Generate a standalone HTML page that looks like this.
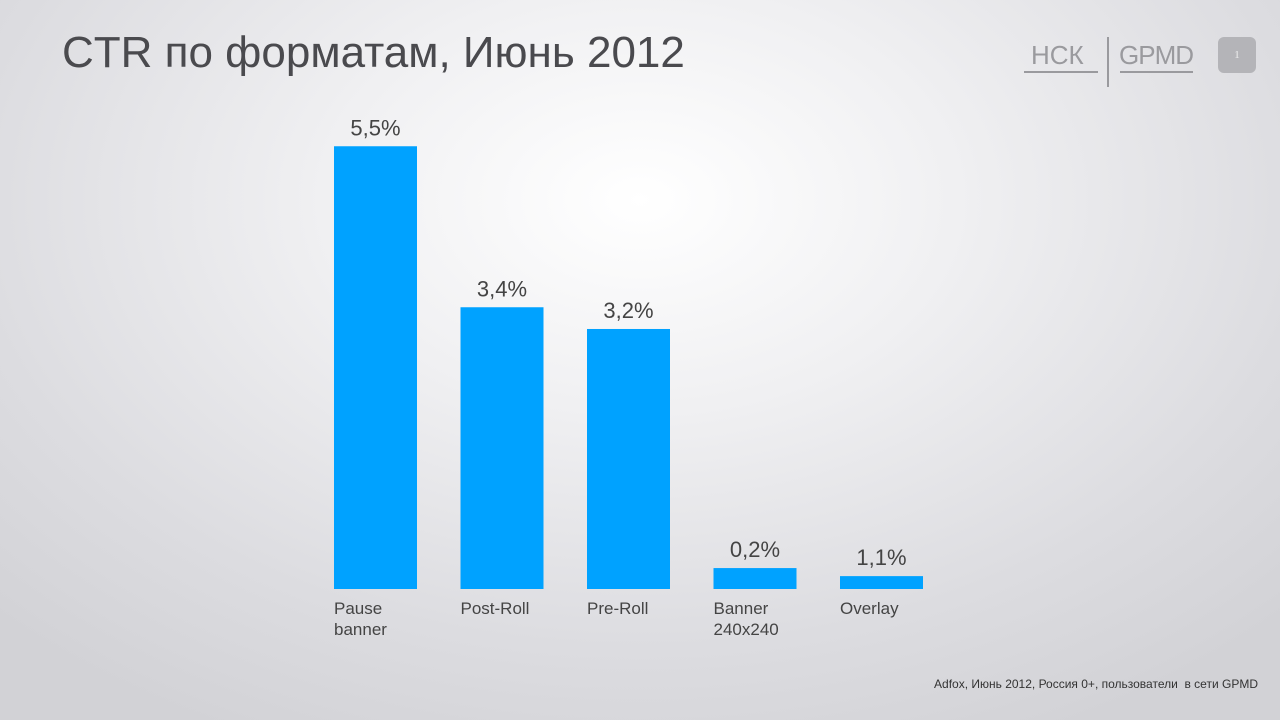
<!DOCTYPE html>
<html><head><meta charset="utf-8"><style>
body{margin:0;width:1280px;height:720px;overflow:hidden;font-family:"Liberation Sans",sans-serif;
background:radial-gradient(ellipse 900px 600px at 640px 200px,#ffffff 0%,#f0f0f2 35%,#dcdce0 75%,#d2d2d6 100%);position:relative}
.abs{position:absolute}
</style></head><body>
<div class="abs" style="left:62px;top:28px;font-size:44px;color:#4a4a4e;letter-spacing:0px">CTR по форматам, Июнь 2012</div>
<div class="abs" style="left:1031px;top:40px;font-size:26px;color:#9a9a9e">НСК</div>
<div class="abs" style="left:1024px;top:71px;width:74px;height:2px;background:#9a9a9e"></div>
<div class="abs" style="left:1107px;top:37px;width:2px;height:50px;background:#9a9a9e"></div>
<div class="abs" style="left:1119px;top:40px;font-size:26px;color:#9a9a9e;letter-spacing:-1px">GPMD</div>
<div class="abs" style="left:1120px;top:71px;width:73px;height:2px;background:#9a9a9e"></div>
<div class="abs" style="left:1218px;top:37px;width:38px;height:36px;border-radius:6px;background:#b4b4b8;color:#eee;font-size:11px;text-align:center;line-height:36px;font-family:'Liberation Serif',serif">1</div>
<svg class="abs" style="left:0;top:0" width="1280" height="720" id="chart"></svg>
<div class="abs" style="right:22px;top:677px;font-size:12px;color:#333">Adfox, Июнь 2012, Россия 0+, пользователи&nbsp; в сети GPMD</div>
<script>
const categories=["Pause\nbanner","Post-Roll","Pre-Roll","Banner\n240x240","Overlay"];
const values=[5.5,3.5,3.23,0.26,0.16];
const valueLabels=["5,5%","3,4%","3,2%","0,2%","1,1%"];
const svg=document.getElementById('chart');
const NS='http://www.w3.org/2000/svg';
const baseY=589,pxPerUnit=80.5,x0=334,step=126.5,bw=83;
const yScale=v=>baseY-v*pxPerUnit;
const xScale=i=>x0+i*step;
values.forEach((v,i)=>{
 const r=document.createElementNS(NS,'rect');
 r.setAttribute('x',xScale(i));r.setAttribute('y',yScale(v));
 r.setAttribute('width',bw);r.setAttribute('height',baseY-yScale(v));
 r.setAttribute('fill','#00a2ff');
 
 
 svg.appendChild(r);
 const t=document.createElementNS(NS,'text');
 t.setAttribute('x',xScale(i)+bw/2);t.setAttribute('y',yScale(v)-11);
 t.setAttribute('text-anchor','middle');t.setAttribute('font-size','22');t.setAttribute('fill','#444');
 t.setAttribute('font-family','Liberation Sans, sans-serif');
 t.textContent=valueLabels[i];
 
 
 svg.appendChild(t);
 categories[i].split('\n').forEach((line,j)=>{
  const c=document.createElementNS(NS,'text');
  c.setAttribute('x',xScale(i));c.setAttribute('y',614+j*21);
  c.setAttribute('font-size','17');c.setAttribute('fill','#444');
  c.setAttribute('font-family','Liberation Sans, sans-serif');
  c.textContent=line;
  
  
  svg.appendChild(c);
 });
});
</script>
</body></html>
